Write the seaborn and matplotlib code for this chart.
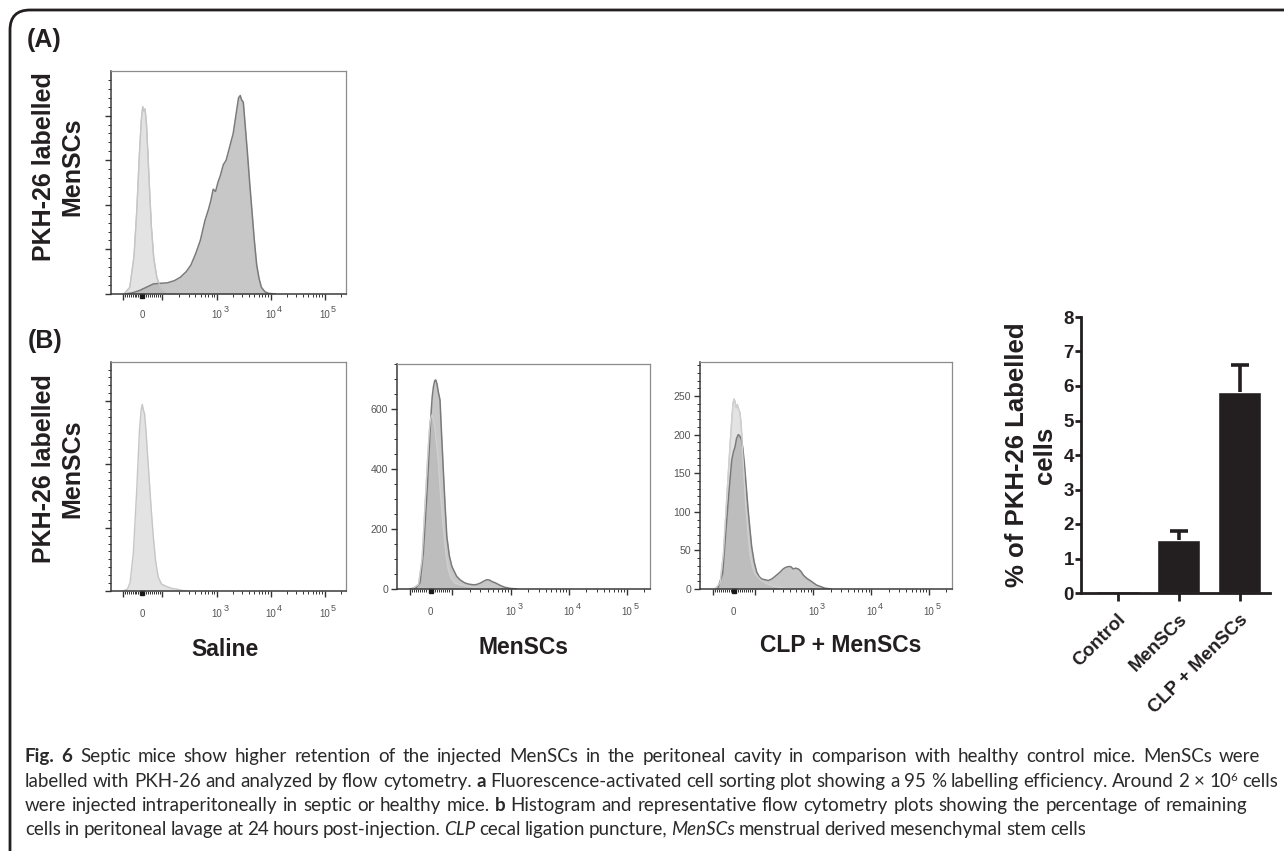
import numpy as np
import pandas as pd
import matplotlib
matplotlib.use("Agg")
import matplotlib.pyplot as plt
import matplotlib.transforms as mtransforms
from matplotlib.path import Path
from matplotlib.patches import PathPatch
import seaborn as sns

# ---------------- data ----------------
# Flow-cytometry histograms: x = position along the biexponential PE axis (0..1 of the plot width)
a_unst_x = [0.055, 0.08, 0.098, 0.110, 0.121, 0.129, 0.135, 0.140, 0.145, 0.151, 0.157, 0.164,
            0.172, 0.182, 0.195, 0.21, 0.235, 0.265, 0.30]
a_unst_y = [0.0, 0.03, 0.17, 0.38, 0.63, 0.78, 0.84, 0.82, 0.83, 0.76, 0.63, 0.47,
            0.30, 0.16, 0.075, 0.03, 0.01, 0.003, 0.0]
a_pkh_x = [0.06, 0.09, 0.12, 0.15, 0.18, 0.21, 0.24, 0.27, 0.295, 0.32, 0.34, 0.36, 0.38, 0.40,
           0.415, 0.425, 0.435, 0.445, 0.455, 0.465, 0.478, 0.49, 0.50, 0.51, 0.52, 0.53, 0.537,
           0.543, 0.55, 0.556, 0.563, 0.57, 0.58, 0.59, 0.60, 0.61, 0.62, 0.63, 0.64, 0.655, 0.67, 0.70]
a_pkh_y = [0.0, 0.005, 0.015, 0.03, 0.045, 0.048, 0.05, 0.06, 0.075, 0.10, 0.13, 0.18, 0.24, 0.33,
           0.38, 0.42, 0.47, 0.46, 0.50, 0.53, 0.58, 0.60, 0.64, 0.68, 0.72, 0.79, 0.84,
           0.88, 0.89, 0.87, 0.86, 0.77, 0.64, 0.50, 0.37, 0.24, 0.13, 0.07, 0.03, 0.01, 0.003, 0.0]

saline_x = [0.05, 0.07, 0.081, 0.095, 0.109, 0.121, 0.128, 0.133, 0.138, 0.143, 0.149, 0.156,
            0.163, 0.171, 0.18, 0.19, 0.201, 0.215, 0.237, 0.26, 0.28, 0.30, 0.322]
saline_y = [0, 3, 13, 60, 156, 253, 286, 295, 286, 280, 253, 213,
            175, 130, 86, 47, 22, 11, 7, 4, 3, 1, 0]

mensc_pkh_x = [0.05, 0.075, 0.091, 0.104, 0.112, 0.12, 0.127, 0.133, 0.139, 0.144, 0.149, 0.153,
               0.158, 0.163, 0.17, 0.176, 0.183, 0.19, 0.197, 0.207, 0.217, 0.236, 0.25, 0.269,
               0.285, 0.302, 0.315, 0.33, 0.345, 0.355, 0.365, 0.375, 0.39, 0.408, 0.425, 0.447, 0.474]
mensc_pkh_y = [0, 4, 20, 120, 230, 342, 460, 564, 640, 675, 695, 698,
               685, 659, 631, 520, 398, 280, 175, 110, 75, 42, 30, 20,
               16, 14, 15, 20, 27, 31, 30, 25, 20, 12, 6, 2, 0]
mensc_unst_x = [0.06, 0.085, 0.099, 0.107, 0.115, 0.122, 0.128, 0.133, 0.138, 0.144, 0.151, 0.157,
                0.163, 0.172, 0.183, 0.193, 0.203, 0.215, 0.229, 0.25, 0.275, 0.30, 0.32, 0.36]
mensc_unst_y = [0, 15, 98, 220, 342, 450, 531, 570, 581, 565, 531, 480,
                431, 320, 209, 120, 64, 35, 20, 14, 10, 6, 3, 0]

clp_unst_x = [0.06, 0.08, 0.093, 0.103, 0.113, 0.12, 0.126, 0.131, 0.135, 0.139, 0.143, 0.148,
              0.153, 0.159, 0.164, 0.168, 0.174, 0.181, 0.19, 0.198, 0.208, 0.218, 0.24, 0.264,
              0.29, 0.32, 0.36]
clp_unst_y = [0, 8, 46, 100, 154, 190, 219, 240, 246, 243, 235, 239,
              233, 228, 210, 184, 150, 111, 75, 46, 30, 20, 12, 7,
              4, 2, 0]
clp_pkh_x = [0.07, 0.09, 0.106, 0.116, 0.126, 0.133, 0.139, 0.145, 0.152, 0.158, 0.165, 0.17,
             0.176, 0.183, 0.19, 0.198, 0.205, 0.215, 0.225, 0.235, 0.245, 0.258, 0.271, 0.285,
             0.304, 0.318, 0.33, 0.34, 0.351, 0.36, 0.37, 0.38, 0.39, 0.40, 0.41, 0.423, 0.437,
             0.45, 0.463, 0.48, 0.496, 0.52]
clp_pkh_y = [0, 20, 89, 130, 167, 178, 184, 195, 200, 198, 193, 182,
             163, 135, 106, 78, 55, 35, 22, 16, 13, 12, 11, 13,
             18, 22, 26, 28, 29, 29, 26, 27, 26, 23, 18, 14, 11,
             8, 5, 3, 1, 0]

flow_tick_text = ["0", "10", "10", "10"]
flow_tick_exp = ["", "3", "4", "5"]

groups = ["Control", "MenSCs", "CLP + MenSCs"]
pct_mean = [0.06, 1.53, 5.83]
pct_sem = [0.0, 0.27, 0.79]
pct_ticks = [0, 1, 2, 3, 4, 5, 6, 7, 8]

caption_lines = [
    [("Fig. 6", "bold"), (" Septic mice show higher retention of the injected MenSCs in the peritoneal cavity in comparison with healthy control mice. MenSCs were", "normal")],
    [("labelled with PKH-26 and analyzed by flow cytometry. ", "normal"), ("a", "bold"),
     (" Fluorescence-activated cell sorting plot showing a 95 % labelling efficiency. Around 2 \u00d7 10", "normal"),
     ("6", "sup"), (" cells", "normal")],
    [("were injected intraperitoneally in septic or healthy mice. ", "normal"), ("b", "bold"),
     (" Histogram and representative flow cytometry plots showing the percentage of remaining", "normal")],
    [("cells in peritoneal lavage at 24 hours post-injection. ", "normal"), ("CLP", "italic"),
     (" cecal ligation puncture, ", "normal"), ("MenSCs", "italic"),
     (" menstrual derived mesenchymal stem cells", "normal")],
]
caption_line_end_px = [1270, 1278, 1247, 780]

# ---------------- style ----------------
sns.set_style("ticks")
plt.rcParams["font.family"] = ["Liberation Sans", "DejaVu Sans"]

W, H = 1284, 851
fig = plt.figure(figsize=(W / 100, H / 100), dpi=100)


def px_axes(l, t, r, b):
    return fig.add_axes([l / W, 1 - b / H, (r - l) / W, (b - t) / H])


LIGHT_FILL, LIGHT_EDGE = "#e3e3e3", "#c6c6c6"
DARK_FILL, DARK_EDGE = "#a6a6a6", "#7a7a7a"

zero_pos, p3, dec = 0.133, 0.45, 0.2295
x_major = [0.052, 0.217, p3, p3 + dec, p3 + 2 * dec]
x_minor = [zero_pos + v / 100 * 0.0825 for v in range(-90, 100, 10) if v != 0]
for n in (2, 3, 4, 5):
    for k in range(2, 10):
        pos = p3 + (n - 3 + np.log10(k)) * dec
        if 0.22 < pos <= 0.99:
            x_minor.append(pos)
label_pos = [zero_pos, p3, p3 + dec, p3 + 2 * dec]


def flow_axes(ax, ymax, ymajor, yminor, show_labels, base_px):
    ax.set_xlim(0, 1)
    ax.set_ylim(0, ymax)
    for s in ("top", "right"):
        ax.spines[s].set_color("#8c8c8c")
        ax.spines[s].set_linewidth(0.9)
        ax.spines[s].set_visible(True)
    for s in ("left", "bottom"):
        ax.spines[s].set_color("#3a3a3a")
        ax.spines[s].set_linewidth(1.1)
    ax.set_xticks(x_major)
    ax.set_xticks(x_minor, minor=True)
    ax.set_xticklabels([])
    ax.set_yticks(ymajor)
    ax.set_yticks(yminor, minor=True)
    if show_labels:
        ax.set_yticklabels([str(int(v)) for v in ymajor], fontsize=7.6, color="#555555")
    else:
        ax.set_yticklabels([])
    ax.tick_params(which="major", length=4.5, width=1.0, color="#333333", direction="out", pad=2)
    ax.tick_params(which="minor", length=2.3, width=0.7, color="#333333", direction="out")
    ax.set_xlabel("")
    ax.set_ylabel("")
    tr = mtransforms.offset_copy(ax.get_xaxis_transform(), fig=fig, y=-2.2, units="dots")
    ax.plot([zero_pos], [0], marker="s", ms=3.2, color="#1a1a1a", transform=tr, clip_on=False)
    trl = mtransforms.offset_copy(ax.get_xaxis_transform(), fig=fig, y=-base_px, units="dots")
    for pos, t, e in zip(label_pos, flow_tick_text, flow_tick_exp):
        ax.text(pos, 0, t, transform=trl, ha="center", va="baseline", fontsize=7, color="#555555")
        if e:
            tre = mtransforms.offset_copy(ax.get_xaxis_transform(), fig=fig, x=6.5, y=-base_px + 6,
                                          units="dots")
            ax.text(pos, 0, e, transform=tre, ha="left", va="baseline", fontsize=6.5, color="#555555")


def hist(ax, x, y, fill, edge, alpha, lw):
    ax.fill_between(x, y, 0, color=fill, alpha=alpha, lw=0)
    sns.lineplot(x=x, y=y, ax=ax, color=edge, lw=lw, sort=False, estimator=None)


# Panel A
axA = px_axes(111, 71, 346, 294)
hist(axA, a_unst_x, a_unst_y, LIGHT_FILL, LIGHT_EDGE, 1.0, 1.0)
hist(axA, a_pkh_x, a_pkh_y, DARK_FILL, DARK_EDGE, 0.62, 1.1)
axA.plot(a_unst_x, a_unst_y, color=LIGHT_EDGE, lw=0.9)
flow_axes(axA, 1.0, [0, 0.2, 0.4, 0.6, 0.8], np.arange(0.04, 1.0, 0.04), False, 24)

# Panel B - Saline
axS = px_axes(111, 362, 346, 591)
hist(axS, saline_x, saline_y, LIGHT_FILL, LIGHT_EDGE, 1.0, 1.0)
flow_axes(axS, 362, [0, 100, 200, 300], np.arange(12.5, 362, 12.5), False, 26)

# Panel B - MenSCs
axM = px_axes(397, 364, 650, 589)
hist(axM, mensc_unst_x, mensc_unst_y, LIGHT_FILL, LIGHT_EDGE, 1.0, 1.0)
hist(axM, mensc_pkh_x, mensc_pkh_y, DARK_FILL, DARK_EDGE, 0.62, 1.1)
axM.plot(mensc_unst_x, mensc_unst_y, color="#d0d0d0", lw=0.9)
flow_axes(axM, 751, [0, 200, 400, 600], np.arange(50, 751, 50), True, 26)

# Panel B - CLP + MenSCs
axC = px_axes(700, 362, 952, 589)
hist(axC, clp_unst_x, clp_unst_y, LIGHT_FILL, LIGHT_EDGE, 1.0, 1.0)
hist(axC, clp_pkh_x, clp_pkh_y, DARK_FILL, DARK_EDGE, 0.62, 1.1)
axC.plot(clp_unst_x, clp_unst_y, color="#d0d0d0", lw=0.9)
flow_axes(axC, 294, [0, 50, 100, 150, 200, 250], np.arange(10, 294, 10), True, 26)

# Bar chart
axB = px_axes(1081, 317, 1270, 593)
df = pd.DataFrame({"group": groups, "pct": pct_mean})
sns.barplot(data=df, x="group", y="pct", color="#231f20", saturation=1, width=0.72, ax=axB)
err_idx = [i for i, s in enumerate(pct_sem) if s > 0]
_, caps, _ = axB.errorbar(err_idx, [pct_mean[i] for i in err_idx],
                          yerr=[[0] * len(err_idx), [pct_sem[i] for i in err_idx]], fmt="none",
                          ecolor="#231f20", elinewidth=2.6, capsize=6.2, capthick=2.6)
caps[0].set_visible(False)
axB.set_xlim(-0.6, 2.5)
axB.set_ylim(0, 8)
axB.set_yticks(pct_ticks)
axB.set_yticklabels([str(v) for v in pct_ticks], fontsize=13.5, fontweight="bold", color="#231f20")
axB.set_xlabel("")
axB.set_ylabel("")
sns.despine(ax=axB)
for s in ("left", "bottom"):
    axB.spines[s].set_linewidth(2.0)
    axB.spines[s].set_color("#231f20")
axB.tick_params(axis="y", length=4, width=2, pad=1, color="#231f20")
axB.tick_params(axis="x", length=6, width=2, pad=7, color="#231f20")
for lab in axB.get_xticklabels():
    lab.set_rotation(45)
    lab.set_ha("right")
    lab.set_va("top")
    lab.set_rotation_mode("anchor")
    lab.set_fontweight("bold")
    lab.set_fontsize(13.5)
    lab.set_color("#231f20")


def ftext(x, y, s, **kw):
    return fig.text(x / W, 1 - y / H, s, **kw)


bold = dict(fontweight="bold", color="#231f20")
ftext(44, 40, "(A)", ha="center", va="center", fontsize=18, **bold)
ftext(45, 341, "(B)", ha="center", va="center", fontsize=18, **bold)
ftext(58, 167, "PKH-26 labelled\nMenSCs", ha="center", va="center", rotation=90,
      fontsize=18, multialignment="center", **bold)
ftext(58, 469, "PKH-26 labelled\nMenSCs", ha="center", va="center", rotation=90,
      fontsize=18, multialignment="center", **bold)
ftext(225, 650, "Saline", ha="center", va="center", fontsize=16.5, **bold)
ftext(524, 647, "MenSCs", ha="center", va="center", fontsize=16.5, **bold)
ftext(841, 646, "CLP + MenSCs", ha="center", va="center", fontsize=16.5, **bold)
ftext(1031, 455, "% of PKH-26 Labelled\ncells", ha="center", va="center", rotation=90,
      fontsize=18.5, multialignment="center", **bold)

# Frame with rounded corner
verts = [(10, 870), (10, 30), (10, 10), (30, 10), (1300, 10)]
verts = [(x / W, 1 - y / H) for x, y in verts]
codes = [Path.MOVETO, Path.LINETO, Path.CURVE3, Path.CURVE3, Path.LINETO]
fig.add_artist(PathPatch(Path(verts, codes), fill=False, lw=2.0, edgecolor="#231f20",
                         transform=fig.transFigure))

# ---------------- caption (mixed styles) ----------------
renderer = fig.canvas.get_renderer()
CAP_FAM = ["Lato", "DejaVu Sans"]


def run_width(txt, style, size):
    kw = dict(fontsize=size * (0.62 if style == "sup" else 1.0), family=CAP_FAM)
    if style == "bold":
        kw["fontweight"] = "bold"
    if style == "italic":
        kw["style"] = "italic"
    t1 = fig.text(0, 0, txt + "|", **kw)
    t2 = fig.text(0, 0, "|", **kw)
    w = t1.get_window_extent(renderer).width - t2.get_window_extent(renderer).width
    t1.remove()
    t2.remove()
    return w, kw


def tokens(runs):
    out = []
    for txt, style in runs:
        parts = txt.split(" ")
        for i, p in enumerate(parts):
            if i > 0:
                out.append((" ", style, True))
            if p:
                out.append((p, style, False))
    return out


CAP_X0 = 25
base_size = 13.0
ratios = []
for runs, end in zip(caption_lines, caption_line_end_px):
    w = sum(run_width(t, s, base_size)[0] for t, s, _ in tokens(runs))
    ratios.append((end - CAP_X0) / w)
cap_size = base_size * min(ratios[:3])

baselines = [762, 787, 811, 835]
for runs, yb, end in zip(caption_lines, baselines, caption_line_end_px):
    toks = tokens(runs)
    widths = [run_width(t, s, cap_size)[0] for t, s, _ in toks]
    n_sp = sum(1 for t in toks if t[2])
    extra = (end - CAP_X0) - sum(widths)
    add = max(-1.0, min(extra / n_sp, 2.5)) if n_sp else 0
    x = CAP_X0
    for (txt, style, is_sp), w in zip(toks, widths):
        if is_sp:
            x += w + add
            continue
        _, kw = run_width(txt, style, cap_size)
        dy = cap_size * 0.45 if style == "sup" else 0
        fig.text(x / W, 1 - (yb - dy) / H, txt, ha="left", va="baseline", color="#2a2a2a", **kw)
        x += w

fig.savefig("out.png", dpi=100)
